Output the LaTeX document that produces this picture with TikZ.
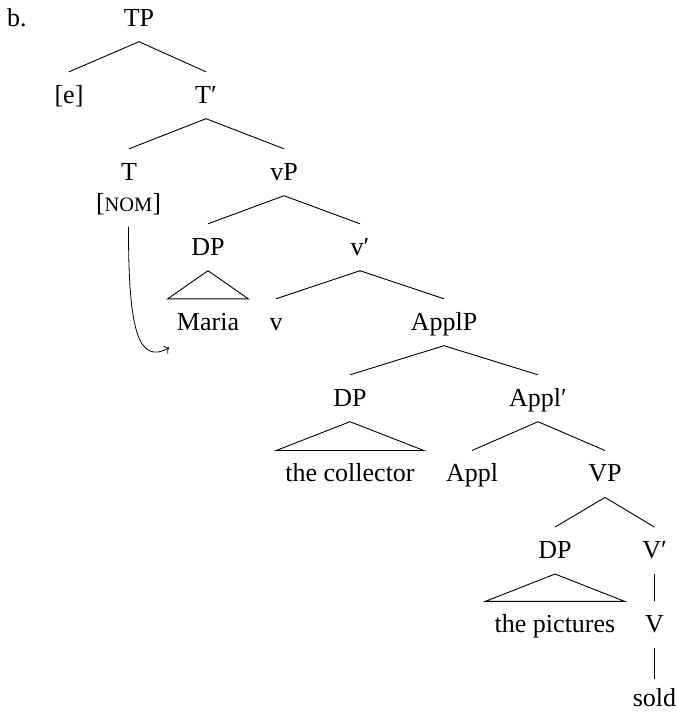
\documentclass[tikz,border=0pt]{standalone}
\usepackage{fontspec}
\setmainfont{Liberation Serif}
\usetikzlibrary{arrows.meta}
\newcommand{\treefont}{\fontsize{26}{31}\selectfont}
\newcommand{\scnom}{{\fontsize{20.4}{24}\selectfont NOM}}
\begin{document}
\begin{tikzpicture}[x=1pt,y=-1pt,
  lab/.style={anchor=base, font=\treefont, inner xsep=0pt, inner ysep=13.5pt, text height=17.5pt, text depth=2pt},
  leaf/.style={lab, inner xsep=9pt},
  branch/.style={line width=0.9pt},
  move/.style={line width=0.8pt, -{To[length=4.5pt,width=9pt]}}]
\useasboundingbox (0,0) rectangle (677,713);
\node[anchor=base west, font=\treefont, inner sep=0pt] (lbl) at (7,26) {b.};
\node[lab] (TP) at (139,26) {TP};
\node[lab] (e) at (69,103) {[e]};
\node[lab] (Tbar) at (206,103) {T′};
\node[lab] (T) at (129,180) {T};
\node[lab] (nom) at (128.5,211) {[\scnom]};
\node[lab] (vP) at (284,180) {vP};
\node[lab] (DPa) at (208,255) {DP};
\node[leaf] (maria) at (208,330) {Maria};
\node[lab] (vbar) at (360,255) {v′};
\node[lab] (v) at (276,330) {v};
\node[lab] (ApplP) at (444,330) {ApplP};
\node[lab] (DPb) at (350,406) {DP};
\node[leaf] (coll) at (350,481.7) {the collector};
\node[lab] (Applbar) at (538,406) {Appl′};
\node[lab] (Appl) at (472,481.7) {Appl};
\node[lab] (VP) at (605,481.7) {VP};
\node[lab] (DPc) at (555,558.3) {DP};
\node[leaf] (pict) at (555,632.5) {the pictures};
\node[lab] (Vbar) at (654.5,558.3) {V′};
\node[lab] (V) at (654.5,632.5) {V};
\node[lab, inner ysep=0pt, text height=27.2pt, text depth=0pt] (sold) at (654.5,706.5) {sold};
\coordinate (tgt) at (169.3,347.7);
\draw[branch] (e.north) -- (TP.south) -- (Tbar.north);
\draw[branch] (T.north) -- (Tbar.south) -- (vP.north);
\draw[branch] (DPa.north) -- (vP.south) -- (vbar.north);
\draw[branch] (v.north) -- (vbar.south) -- (ApplP.north);
\draw[branch] (DPb.north) -- (ApplP.south) -- (Applbar.north);
\draw[branch] (Appl.north) -- (Applbar.south) -- (VP.north);
\draw[branch] (DPc.north) -- (VP.south) -- (Vbar.north);
\draw[branch] (Vbar.south) -- (V.north);
\draw[branch] (V.south) -- (sold.north);
\draw[branch] (DPa.south) -- (maria.north west) -- (maria.north east) -- cycle;
\draw[branch] (DPb.south) -- (coll.north west) -- (coll.north east) -- cycle;
\draw[branch] (DPc.south) -- (pict.north west) -- (pict.north east) -- cycle;
\draw[move] (nom.south) .. controls (128.3,330) and (138,365) .. (tgt);
\end{tikzpicture}
\end{document}
